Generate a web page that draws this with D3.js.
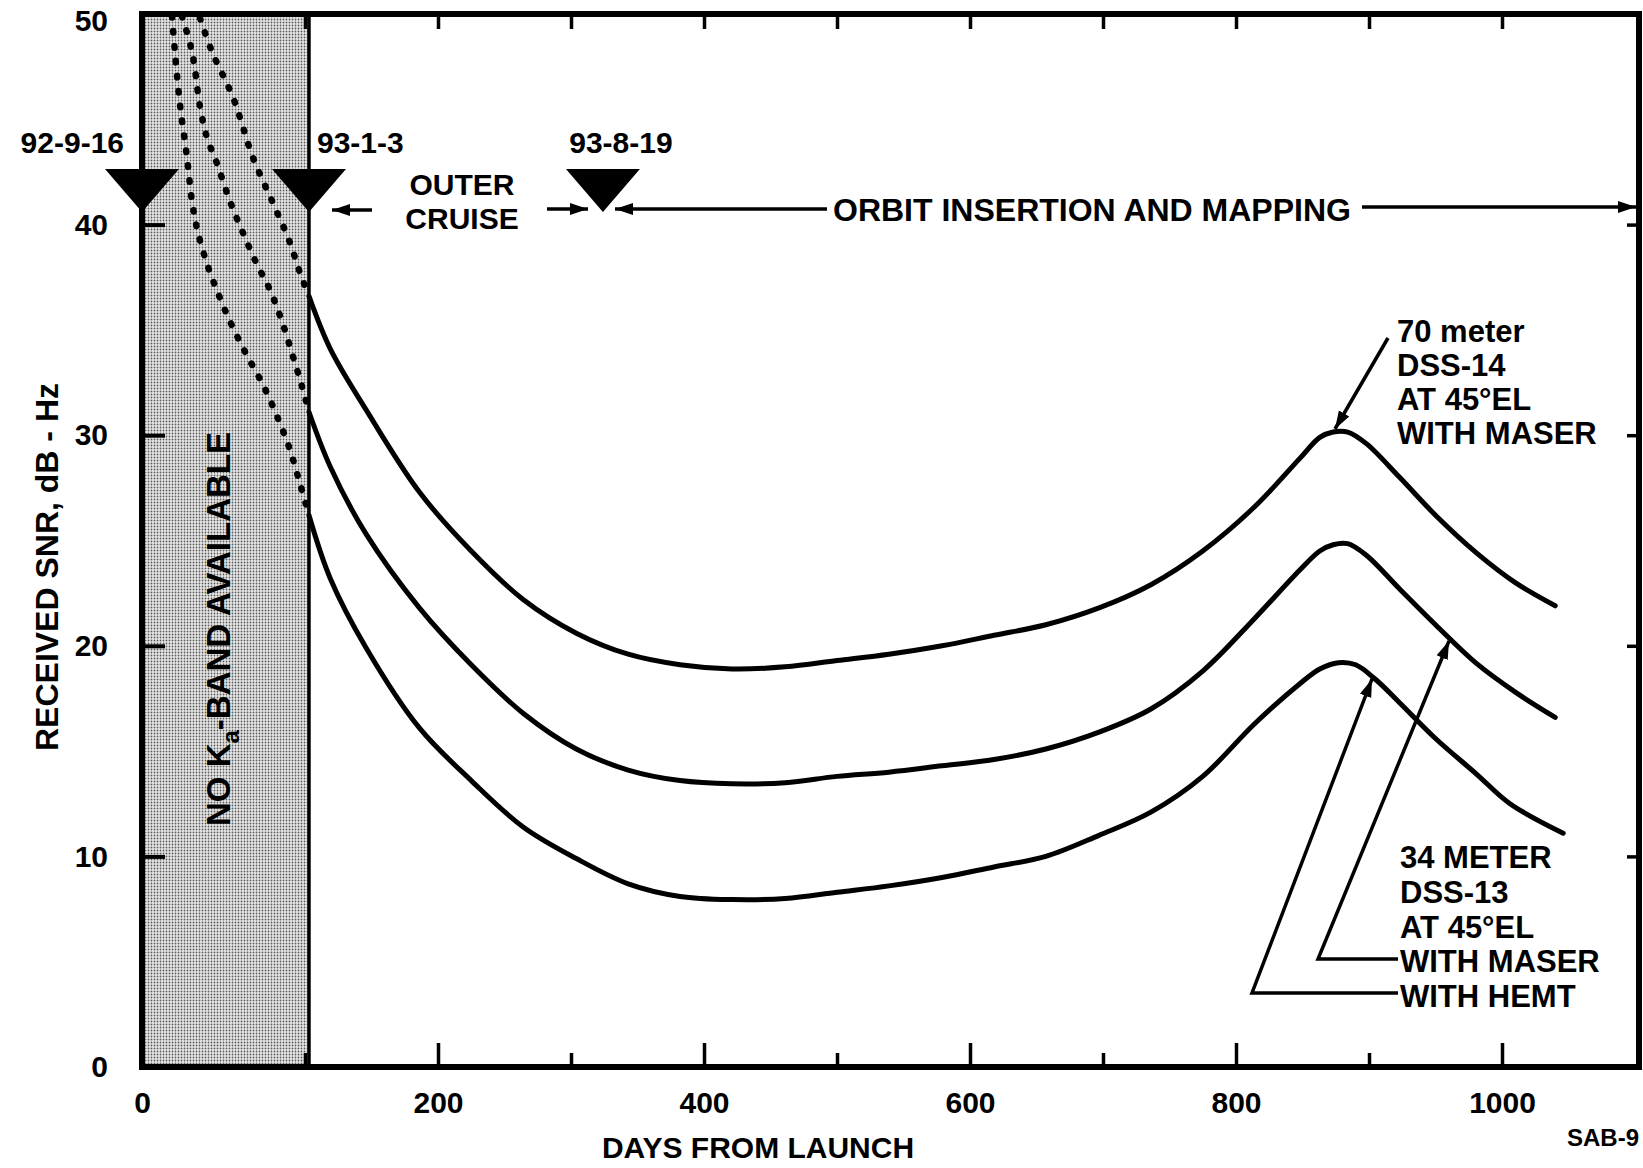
<!DOCTYPE html>
<html><head><meta charset="utf-8">
<script src="https://cdn.jsdelivr.net/npm/d3@7"></script>
<style>
html,body{margin:0;padding:0;background:#fff;}
svg{display:block;}
text{font-family:"Liberation Sans",Arial,Helvetica,sans-serif;font-weight:bold;fill:#000;}
</style></head><body>
<svg id="chart" width="1643" height="1168"></svg>
<script>
// ---------- data ----------
const xTickMajor = [0, 200, 400, 600, 800, 1000];
const xTickMinor = [100, 300, 500, 700, 900];
const xTickTop = [100, 200, 300, 400, 500, 600, 700, 800, 900, 1000];
const yTicks = [0, 10, 20, 30, 40, 50];
const yTickInner = [10, 20, 30, 40];
const noKaBandEnd = 103;
const eventDays = [0, 103, 324];
const eventLabels = ["92-9-16", "93-1-3", "93-8-19"];

// received SNR (dB-Hz) vs days from launch  [day, value]
const snr70mMaser = [[103,36.6],[119,34.1],[146,31.2],[186,27.3],[225,24.5],[264,22.2],[304,20.6],[343,19.6],[382,19.1],[421,18.9],[461,19.0],[500,19.3],[539,19.6],[579,20.0],[618,20.5],[657,21.0],[697,21.8],[736,22.9],[775,24.5],[814,26.6],[848,28.9],[863,29.9],[873,30.15],[884,30.15],[898,29.6],[923,28.0],[950,26.2],[981,24.4],[1010,23.0],[1040,21.9]];
const snr34mMaser = [[103,31.1],[119,28.5],[146,25.3],[186,21.8],[225,19.1],[264,16.8],[304,15.1],[343,14.1],[382,13.6],[421,13.45],[461,13.5],[500,13.8],[539,14.0],[579,14.3],[618,14.6],[657,15.1],[697,15.9],[736,17.0],[775,18.8],[814,21.3],[848,23.6],[863,24.5],[873,24.8],[884,24.85],[898,24.3],[923,22.7],[950,21.0],[981,19.15],[1010,17.8],[1040,16.6]];
const snr34mHemt = [[103,26.2],[119,23.2],[146,19.9],[186,16.1],[225,13.6],[264,11.4],[304,9.9],[343,8.7],[382,8.1],[421,7.95],[461,8.0],[500,8.3],[539,8.6],[579,9.0],[618,9.5],[657,10.0],[697,11.0],[736,12.1],[775,13.8],[814,16.3],[848,18.2],[863,18.9],[877,19.2],[890,19.1],[905,18.4],[923,17.3],[950,15.6],[981,13.9],[1006,12.5],[1046,11.1]];
// dotted extrapolation inside the no-Ka-band period
const pre70mMaser = [[35.6,49.8],[43,48.2],[56,46.0],[68,43.2],[80.5,41.0],[90,39.3],[97,37.7],[103,36.6]];
const pre34mMaser = [[24.5,49.9],[30.7,48.2],[35.6,45.6],[40,44.1],[46,42.9],[54,41.1],[62,39.6],[70.6,38.1],[78.5,36.9],[85.9,35.4],[92,33.9],[98.2,32.3],[103,31.1]];
const pre34mHemt = [[18.4,49.9],[20.2,48.2],[23.3,45.7],[27.6,43.2],[30.7,41.1],[34.4,39.6],[40.5,38.0],[47.9,36.5],[55.8,35.1],[65,33.7],[74.2,32.4],[83.4,30.8],[90.8,29.3],[96.9,27.7],[103,26.2]];

// ---------- layout ----------
const svg = d3.select("#chart");
const x = d3.scaleLinear().domain([0, 100, 1103]).range([142, 305, 1639]);
const y = d3.scaleLinear().domain([0, 50]).range([1067, 14]);
const FONT = '"Liberation Sans", Arial, Helvetica, sans-serif';

const defs = svg.append("defs");
const pat = defs.append("pattern").attr("id","stip").attr("width",3).attr("height",3).attr("patternUnits","userSpaceOnUse");
pat.append("rect").attr("width",3).attr("height",3).attr("fill","#e8e8e8");
pat.append("circle").attr("cx",1.5).attr("cy",1.5).attr("r",0.9).attr("fill","#5a5a5a");
defs.append("marker").attr("id","ah").attr("markerUnits","userSpaceOnUse")
  .attr("markerWidth",19).attr("markerHeight",14).attr("refX",18).attr("refY",7).attr("orient","auto")
  .append("path").attr("d","M0,1 L18,7 L0,13 Z").attr("fill","#000");
defs.append("clipPath").attr("id","plotclip").append("rect")
  .attr("x",x(0)).attr("y",y(50)).attr("width",x(1103)-x(0)).attr("height",y(0)-y(50));

// shaded no-Ka-band region
svg.append("rect").attr("x",x(0)).attr("y",y(50)).attr("width",x(noKaBandEnd)-x(0)).attr("height",y(0)-y(50))
  .attr("fill","url(#stip)");

const line = d3.line().x(d=>x(d[0])).y(d=>y(d[1])).curve(d3.curveCatmullRom.alpha(0.5));
const plot = svg.append("g").attr("clip-path","url(#plotclip)");
[pre70mMaser, pre34mMaser, pre34mHemt].forEach(s=>{
  plot.append("path").attr("d",line(s)).attr("fill","none").attr("stroke","#000")
    .attr("stroke-width",6.5).attr("stroke-linecap","round").attr("stroke-dasharray","1.5 13.5");
});
[snr70mMaser, snr34mMaser, snr34mHemt].forEach(s=>{
  plot.append("path").attr("d",line(s)).attr("fill","none").attr("stroke","#000")
    .attr("stroke-width",5).attr("stroke-linecap","round").attr("stroke-linejoin","round");
});

// vertical line at end of no-Ka-band
svg.append("line").attr("x1",x(noKaBandEnd)).attr("x2",x(noKaBandEnd)).attr("y1",y(50)).attr("y2",y(0))
  .attr("stroke","#000").attr("stroke-width",3.5);

// axes
function styleAxis(g, sw){
  g.select(".domain").remove();
  g.attr("font-size",30).attr("font-family",FONT).attr("font-weight","bold");
  g.selectAll(".tick line").attr("stroke-width",sw);
  g.selectAll(".tick text").attr("fill","#000");
}
svg.append("g").attr("transform",`translate(${x(0)},0)`)
  .call(d3.axisLeft(y).tickValues(yTicks).tickSize(-23).tickPadding(34).tickFormat(d3.format("d")))
  .call(g=>styleAxis(g,4))
  .call(g=>g.selectAll(".tick text").filter(d=>d===50).attr("dy","0.55em"));
svg.append("g").attr("transform",`translate(0,${y(0)})`)
  .call(d3.axisBottom(x).tickValues(xTickMajor).tickSize(-24).tickPadding(25).tickFormat(d3.format("d")))
  .call(g=>styleAxis(g,3.5));
svg.append("g").attr("transform",`translate(0,${y(0)})`)
  .call(d3.axisBottom(x).tickValues(xTickMinor).tickSize(-14).tickFormat(""))
  .call(g=>styleAxis(g,3.5));
svg.append("g").attr("transform",`translate(0,${y(50)})`)
  .call(d3.axisTop(x).tickValues(xTickTop).tickSize(-15).tickFormat(""))
  .call(g=>styleAxis(g,3.5));
svg.append("g").attr("transform",`translate(${x(1103)},0)`)
  .call(d3.axisRight(y).tickValues(yTickInner).tickSize(-12).tickFormat(""))
  .call(g=>styleAxis(g,3.5));

// frame
svg.append("rect").attr("x",x(0)).attr("y",y(50)).attr("width",x(1103)-x(0)).attr("height",y(0)-y(50))
  .attr("fill","none").attr("stroke","#000").attr("stroke-width",6);

// event markers
const evLayout = [{anchor:"end",dx:-18},{anchor:"start",dx:8},{anchor:"middle",dx:18}];
eventDays.forEach((d,i)=>{
  const tx = x(d), ty = y(40.6), hw = 37, h = 43;
  svg.append("path").attr("d",`M${tx-hw},${ty-h} L${tx+hw},${ty-h} L${tx},${ty} Z`).attr("fill","#000");
  svg.append("text").attr("x",tx+evLayout[i].dx).attr("y",153).attr("text-anchor",evLayout[i].anchor)
    .attr("font-size",30).text(eventLabels[i]);
});

// phase annotations
function arrow(pts){
  svg.append("polyline").attr("points",pts.map(p=>p.join(",")).join(" "))
    .attr("fill","none").attr("stroke","#000").attr("stroke-width",3.5).attr("marker-end","url(#ah)");
}
svg.append("text").attr("x",462).attr("y",195).attr("text-anchor","middle").attr("font-size",30).text("OUTER");
svg.append("text").attr("x",462).attr("y",229).attr("text-anchor","middle").attr("font-size",30).text("CRUISE");
arrow([[372,210],[332,210]]);
arrow([[547,209],[588,209]]);
arrow([[827,209],[615,209]]);
svg.append("text").attr("x",833).attr("y",221).attr("font-size",32).text("ORBIT INSERTION AND MAPPING");
arrow([[1362,207],[1636,207]]);

// curve labels
const lab70 = ["70 meter","DSS-14","AT 45°EL","WITH MASER"];
lab70.forEach((t,i)=>svg.append("text").attr("x",1397).attr("y",342+i*34).attr("font-size",31).text(t));
arrow([[1388,338],[1335,429]]);
const lab34 = ["34 METER","DSS-13","AT 45°EL","WITH MASER","WITH HEMT"];
lab34.forEach((t,i)=>svg.append("text").attr("x",1400).attr("y",868+i*34.8).attr("font-size",31).text(t));
arrow([[1398,959],[1318,959],[1449,641]]);
arrow([[1398,993],[1252,993],[1372,679]]);

// NO Ka-BAND AVAILABLE
const nk = svg.append("text").attr("transform","translate(230,629) rotate(-90)").attr("text-anchor","middle").attr("font-size",33);
nk.append("tspan").text("NO K");
nk.append("tspan").attr("font-size",24).attr("dy",9).text("a");
nk.append("tspan").attr("dy",-9).text("-BAND AVAILABLE");

// axis titles
svg.append("text").attr("transform","translate(58,567) rotate(-90)").attr("text-anchor","middle").attr("font-size",32)
  .text("RECEIVED SNR, dB - Hz");
svg.append("text").attr("x",758).attr("y",1158).attr("text-anchor","middle").attr("font-size",30).text("DAYS FROM LAUNCH");
svg.append("text").attr("x",1567).attr("y",1146).attr("font-size",24).text("SAB-9");
</script>
</body></html>
